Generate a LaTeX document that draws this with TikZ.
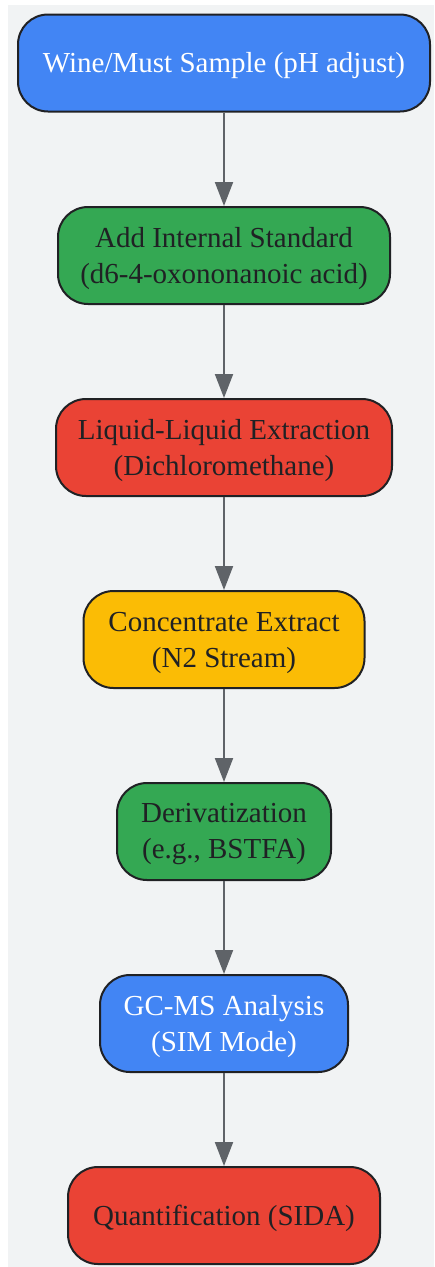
\documentclass[tikz,border=0pt]{standalone}
\usepackage{fontspec}
\setmainfont{Liberation Serif}
\usetikzlibrary{arrows.meta}
\definecolor{bgc}{HTML}{F1F3F4}
\definecolor{gblue}{HTML}{4285F4}
\definecolor{ggreen}{HTML}{34A853}
\definecolor{gred}{HTML}{EA4335}
\definecolor{gyellow}{HTML}{FBBC05}
\definecolor{edgec}{HTML}{202124}
\definecolor{txtc}{HTML}{202124}
\definecolor{arrc}{HTML}{5F6368}
\tikzset{
  stepbox/.style={draw=edgec, line width=2pt, rounded corners=30pt,
    minimum height=97pt, inner sep=0pt},
  steptext/.style={align=center, inner sep=0pt, yshift=-3pt, text=txtc,
    font=\fontsize{29}{36}\selectfont},
  flowarrow/.style={draw=arrc, line width=2pt, -{Triangle[length=24pt,width=18pt]}}
}
\begin{document}
\begin{tikzpicture}[x=1pt,y=1pt]
\useasboundingbox (0,0) rectangle (434,-1267);
\fill[bgc] (8,-5) rectangle (434,-1267);
\node[stepbox, fill=gblue, minimum width=412pt,
  label={[steptext, text=white]center:Wine/Must Sample (pH adjust)}] (n1) at (224,-63) {};
\node[stepbox, fill=ggreen, minimum width=332pt,
  label={[steptext]center:Add Internal Standard\\(d6-4-oxononanoic acid)}] (n2) at (224,-255.5) {};
\node[stepbox, fill=gred, minimum width=336pt,
  label={[steptext]center:Liquid-Liquid Extraction\\(Dichloromethane)}] (n3) at (224,-447.5) {};
\node[stepbox, fill=gyellow, minimum width=281pt,
  label={[steptext]center:Concentrate Extract\\(N2 Stream)}] (n4) at (224,-639.5) {};
\node[stepbox, fill=ggreen, minimum width=214pt,
  label={[steptext]center:Derivatization\\(e.g., BSTFA)}] (n5) at (224,-831.5) {};
\node[stepbox, fill=gblue, minimum width=248pt,
  label={[steptext, text=white]center:GC-MS Analysis\\(SIM Mode)}] (n6) at (224,-1023.5) {};
\node[stepbox, fill=gred, minimum width=312pt,
  label={[steptext]center:Quantification (SIDA)}] (n7) at (224,-1215.5) {};
\draw[flowarrow] (n1) -- (n2);
\draw[flowarrow] (n2) -- (n3);
\draw[flowarrow] (n3) -- (n4);
\draw[flowarrow] (n4) -- (n5);
\draw[flowarrow] (n5) -- (n6);
\draw[flowarrow] (n6) -- (n7);
\end{tikzpicture}
\end{document}
